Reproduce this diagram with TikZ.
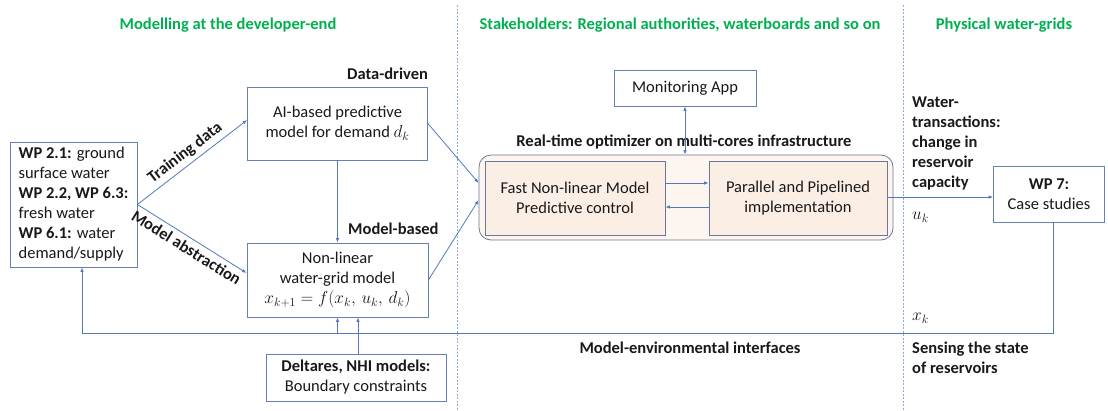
\documentclass[tikz,border=0pt]{standalone}
\usepackage{fontspec}
\setmainfont{Carlito}
\usetikzlibrary{arrows.meta}

\definecolor{lnblue}{RGB}{84,120,190}
\definecolor{boxedge}{RGB}{100,128,185}
\definecolor{inneredge}{RGB}{110,120,150}
\definecolor{peach}{RGB}{251,238,229}
\definecolor{peachlight}{RGB}{253,245,240}
\definecolor{ttlgreen}{RGB}{0,176,80}
\definecolor{sepline}{RGB}{143,170,220}

\tikzset{
  txt/.style={font=\fontsize{16.5}{20}\selectfont, text=black!90, inner sep=0pt},
  lbl/.style={txt, font=\fontsize{16.5}{20}\selectfont\bfseries},
  ttl/.style={txt, font=\fontsize{16.5}{20}\selectfont\bfseries, text=ttlgreen},
  whitebox/.style={txt, draw=boxedge, line width=0.8pt, fill=white, align=center},
  corebox/.style={txt, draw=inneredge, line width=0.8pt, fill=peach, align=center},
  arr/.style={draw=lnblue, line width=0.8pt, -{Latex[length=4.5pt,width=3.5pt]}},
  arrboth/.style={draw=lnblue, line width=0.8pt, {Latex[length=4.5pt,width=3.5pt]}-{Latex[length=4.5pt,width=3.5pt]}},
  sep/.style={draw=sepline, line width=0.7pt, dash pattern=on 2pt off 1.5pt},
}

\begin{document}
\begin{tikzpicture}[x=1pt, y=-1pt]
\useasboundingbox (0,0) rectangle (1108,410);

% column separators
\coordinate (s1t) at (457,5);  \coordinate (s1b) at (457,410);
\coordinate (s2t) at (903,5);  \coordinate (s2b) at (903,410);
\draw[sep] (s1t) -- (s1b);
\draw[sep] (s2t) -- (s2b);

% column titles
\node[ttl] (h1) at (228,25) {Modelling at the developer-end};
\node[ttl] (h2) at (680,25) {Stakeholders: Regional authorities, waterboards and so on};
\node[ttl] (h3) at (1004,25) {Physical water-grids};

% developer-end models
\node[whitebox, align=left, minimum width=127pt, minimum height=125pt] (WP) at (73.5,204.5)
  {\textbf{WP 2.1:} ground\\surface water\\\textbf{WP 2.2, WP 6.3:}\\fresh water\\\textbf{WP 6.1:} water\\demand/supply};
\node[whitebox, minimum width=180pt, minimum height=73pt] (AI) at (337.5,123.5)
  {AI-based predictive\\model for demand $d_k$};
\node[whitebox, minimum width=181pt, minimum height=74pt] (NL) at (337.5,280)
  {Non-linear\\water-grid model\\$x_{k+1} = f(x_k,\, u_k,\, d_k)$};
\node[whitebox, minimum width=180pt, minimum height=47pt] (Del) at (356,377.5)
  {\textbf{Deltares, NHI models:}\\Boundary constraints};
\node[lbl, anchor=west] (dd) at (347,74) {Data-driven};
\node[lbl, anchor=west] (mb) at (348,229) {Model-based};

% stakeholder side
\node[whitebox, minimum width=142pt, minimum height=36pt] (Mon) at (685,88) {Monitoring App};
\node[lbl] (rt) at (684,142) {Real-time optimizer on multi-cores infrastructure};
\node[draw=inneredge, line width=0.8pt, fill=peachlight, rounded corners=12pt,
      minimum width=414pt, minimum height=85pt, inner sep=0pt] (opt) at (686,197.5) {};
\node[corebox, minimum width=180pt, minimum height=74pt] (Fast) at (575,198)
  {Fast Non-linear Model\\Predictive control};
\node[corebox, minimum width=178pt, minimum height=74pt] (Par) at (798,198)
  {Parallel and Pipelined\\implementation};
\node[lbl] (mei) at (690,348) {Model-environmental interfaces};

% physical water-grids
\node[whitebox, minimum width=111pt, minimum height=56pt] (WP7) at (1049,194)
  {\textbf{WP 7:}\\Case studies};
\node[lbl, anchor=west, align=left] (wt) at (912,143.5)
  {Water-\\transactions:\\change in\\reservoir\\capacity};
\node[lbl, anchor=west, align=left] (sens) at (912,358)
  {Sensing the state\\of reservoirs};
\node[txt, anchor=west] (uk) at (912,217) {$u_k$};
\node[txt, anchor=west] (xk) at (912,318) {$x_k$};

% connectors
\draw[arr] (WP.east) -- node[lbl, sloped, above=4pt] (trd) {Training data} ([yshift=3.5pt]AI.west);
\draw[arr] (WP.east) -- node[lbl, sloped, below=4pt] (mab) {Model abstraction} ([yshift=7pt]NL.west);
\draw[arr] (AI.south) -- (NL.north);
\draw[arr] (AI.east) -- (opt.west |- 0,183);
\draw[arr] (NL.east) -- (opt.west |- 0,200);
\draw[arr] (Fast.east |- 0,183) -- (Par.west |- 0,183);
\draw[arr] (Par.west |- 0,207) -- (Fast.east |- 0,207);
\draw[arrboth] (Mon.south) -- (Mon.south |- opt.north);
\draw[arr] (Par.east |- 0,197) -- (WP7.west |- 0,197);

% feedback from the water-grid
\coordinate (fb) at (0,333);
\draw[arr] ([xshift=4pt]WP7.south) |- ([xshift=8.5pt]WP.south |- fb) -- ([xshift=8.5pt]WP.south);
\draw[arr] (NL.south |- fb) -- (NL.south);
\draw[arr] ([xshift=2pt]Del.north) -- ([xshift=2pt]Del.north |- NL.south);
\end{tikzpicture}
\end{document}
